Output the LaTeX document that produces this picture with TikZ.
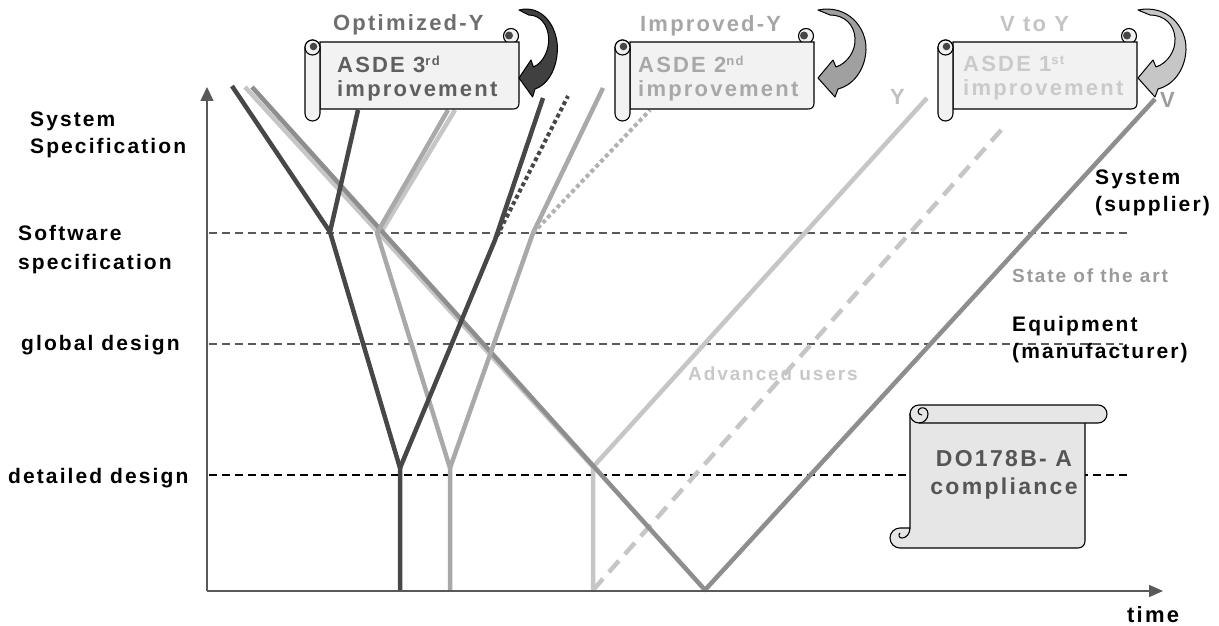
\documentclass[tikz,border=0pt]{standalone}
\usepackage{fontspec}
\setmainfont{Liberation Sans}[LetterSpace=10]
\usetikzlibrary{arrows.meta}
\definecolor{cdark}{HTML}{474747}
\definecolor{cmed}{HTML}{A9A9A9}
\definecolor{cmeddot}{HTML}{B2B2B2}
\definecolor{clight}{HTML}{C6C6C6}
\definecolor{cv}{HTML}{8E8E8E}
\definecolor{caxis}{HTML}{595959}
\definecolor{cscroll}{HTML}{F2F2F2}
\definecolor{cdo}{HTML}{E6E6E6}
\definecolor{tOpt}{HTML}{6E6E6E}
\definecolor{tImp}{HTML}{A6A6A6}
\definecolor{tVY}{HTML}{C4C4C4}
\definecolor{tS3}{HTML}{5F5F5F}
\definecolor{tS2}{HTML}{A8A8A8}
\definecolor{tS1}{HTML}{CACACA}
\definecolor{tState}{HTML}{9A9A9A}
\definecolor{tAdv}{HTML}{C8C8C8}
\definecolor{tY}{HTML}{C0C0C0}
\definecolor{tV}{HTML}{9C9C9C}
\definecolor{tDO}{HTML}{555555}
\definecolor{aOne}{HTML}{404040}
\definecolor{aTwo}{HTML}{A0A0A0}
\definecolor{aThree}{HTML}{C6C6C6}

\newcommand\hscroll[2]{%
 \begin{scope}[shift={(#1,0)}]
  \draw[scr] (#2-8,36) circle[radius=7.5];
  \draw[scr] (15,42) -- (#2,42) -- (#2,103) .. controls (#2,107) and (#2-2,109) .. (#2-6,109) -- (15,109) -- cycle;
  \fill[cdark] (#2-10,35.5) circle[radius=4];
  \draw[scr,rounded corners=7.5pt] (0,40) rectangle (15,121);
  \draw[scr] (7.5,47.5) circle[radius=7.5];
  \fill[cdark] (8.5,46.5) circle[radius=3.8];
 \end{scope}}

\newcommand\curlarrow[3]{%
 \begin{scope}[shift={(#1,0)},xscale=#2]
  \filldraw[draw=black,line width=1pt,fill=#3,line join=round] (0,10) .. controls (30,4) and (49,28) .. (48,50) .. controls (47,72) and (33,86) .. (20,89) -- (17,97) -- (0,78) -- (15,60) -- (18,67) .. controls (30,63) and (38,50) .. (37,38) .. controls (36,24) and (26,15) .. (12,15) -- cycle;
 \end{scope}}

\newcommand\supx[1]{\raisebox{7pt}{\fontsize{13}{13}\selectfont #1}}

\begin{document}
\begin{tikzpicture}[x=1pt,y=-1pt,
  gline/.style={line width=4.5pt,line join=round},
  hdash/.style={line width=1.1pt,dash pattern=on 8pt off 5pt},
  scr/.style={draw=black,line width=1.1pt,fill=cscroll},
  vscr/.style={draw=black,line width=1.1pt,fill=cdo},
  lbl/.style={inner sep=0pt,font=\bfseries\fontsize{21}{27}\selectfont,align=left},
  sml/.style={inner sep=0pt,font=\bfseries\fontsize{19}{22}\selectfont},
  top/.style={inner sep=0pt,font=\bfseries\fontsize{22}{24}\selectfont,anchor=base west},
  stxt/.style={inner sep=0pt,font=\bfseries\fontsize{22}{24}\selectfont,align=left,anchor=north west}
]
\useasboundingbox (0,0) rectangle (1219,626);

% dashed levels
\coordinate (h1s) at (209,233); \coordinate (h1e) at (1127,233);
\coordinate (h2s) at (209,344); \coordinate (h2e) at (1123,344);
\coordinate (h3s) at (209,475); \coordinate (h3e) at (1128,475);
\draw[hdash,draw=caxis] (h1s) -- (h1e);
\draw[hdash,draw=caxis] (h2s) -- (h2e);
\draw[hdash,draw=black] (h3s) -- (h3e);

% light lines
\coordinate (lT) at (245,87);
\coordinate (lB) at (593,467);
\coordinate (lBot) at (593,590);
\coordinate (lY) at (927,98);
\coordinate (lDe) at (1003,128);
\coordinate (lU0) at (380,234);
\coordinate (lU) at (455,110);
\draw[gline,clight] (lT) -- (lB) -- (lBot);
\draw[gline,clight] (lB) -- (lY);
\draw[gline,clight] (lU0) -- (lU);
\draw[line width=4.5pt,clight,dash pattern=on 15pt off 9pt] (lBot) -- (lDe);

% V line
\coordinate (vT) at (252,87);
\coordinate (vB) at (705,590);
\coordinate (vE) at (1155,99);
\draw[gline,cv] (vT) -- (vB) -- (vE);

% medium lines
\coordinate (mU) at (448,110);
\coordinate (mB1) at (377,233);
\coordinate (mB2) at (450,468);
\coordinate (mBot) at (450,590);
\coordinate (mK) at (533,233);
\coordinate (mTop) at (603,88);
\coordinate (mDe) at (650,110);
\draw[gline,cmed] (mU) -- (mB1) -- (mB2) -- (mBot);
\draw[gline,cmed] (mB2) -- (mK) -- (mTop);
\draw[line width=4pt,cmeddot,dash pattern=on 4pt off 3pt] (mK) -- (mDe);

% dark lines
\coordinate (dT) at (232,86);
\coordinate (dB1) at (330,232);
\coordinate (dU) at (358,110);
\coordinate (dB2) at (400,468);
\coordinate (dBot) at (400,590);
\coordinate (dK) at (495,240);
\coordinate (dTop) at (543,98);
\coordinate (dDs) at (497,236);
\coordinate (dDe) at (568,96);
\draw[gline,cdark] (dT) -- (dB1) -- (dB2) -- (dBot);
\draw[gline,cdark] (dB1) -- (dU);
\draw[gline,cdark] (dB2) -- (dK) -- (dTop);
\draw[line width=4pt,cdark,dash pattern=on 4pt off 3pt] (dDs) -- (dDe);

% axes
\coordinate (O) at (207,591);
\coordinate (ya) at (207,87);
\coordinate (xa) at (1163,591);
\draw[line width=1.5pt,caxis,-{Triangle[length=14pt,width=13pt]}] (O) -- (ya);
\draw[line width=1.5pt,caxis,-{Triangle[length=14pt,width=12pt]}] (O) -- (xa);

% horizontal scrolls and curved arrows
\hscroll{305}{214}
\hscroll{615}{199}
\hscroll{938}{199}
\curlarrow{519}{0.8}{aOne}
\curlarrow{818}{1}{aTwo}
\curlarrow{1138}{1}{aThree}

% DO178B vertical scroll
\draw[vscr] (910,414) -- (1085,414) -- (1085,541) .. controls (1085,545) and (1082,548) .. (1078,548) -- (900,548) .. controls (894.5,548) and (890,543.5) .. (890,538) .. controls (890,532.5) and (894.5,528) .. (900,528) -- (910,528) -- cycle;
\draw[line width=1.1pt] (910,528) .. controls (910,534) and (906,538) .. (902,538) .. controls (899,538) and (898,535) .. (900,533);
\draw[vscr,rounded corners=9pt] (910,405) rectangle (1107,423);
\draw[line width=1.1pt] (919,423) .. controls (924,423) and (928,419) .. (928,414) .. controls (928,409) and (924,407) .. (921,408) .. controls (917,409) and (917,415) .. (922,415);
\node[inner sep=0pt,font=\bfseries\fontsize{23}{28}\selectfont,align=center,text=tDO] (do) at (1004,475) {DO178B- A\\compliance};

% scroll texts
\node[stxt,text=tS3] (s3) at (337,56) {ASDE 3\supx{rd}\\improvement};
\node[stxt,text=tS2] (s2) at (638,56) {ASDE 2\supx{nd}\\improvement};
\node[stxt,text=tS1] (s1) at (963,56) {ASDE 1\supx{st}\\improvement};

% top labels
\node[top,text=tOpt] (opt) at (333,31) {Optimized-Y};
\node[top,text=tImp] (imp) at (640,32) {Improved-Y};
\node[top,text=tVY] (vty) at (1000,32) {V to Y};

% left labels
\node[lbl,anchor=north west] (sysspec) at (30,112) {System\\Specification};
\node[lbl,anchor=north west] (swspec) at (18,225) {Software\\[2pt]specification};
\node[lbl,anchor=base west] (globd) at (21,350) {global design};
\node[lbl,anchor=base west] (detd) at (8,483) {detailed design};

% right labels
\node[lbl,anchor=north west] (syssup) at (1095,170) {System\\(supplier)};
\node[sml,anchor=base west,text=tState] (state) at (1012,282) {State of the art};
\node[lbl,anchor=north west] (equip) at (1012,316) {Equipment\\(manufacturer)};

% other labels
\node[sml,anchor=base west,text=tAdv] (adv) at (688,380) {Advanced users};
\node[top,text=tY] (ylab) at (890,105) {Y};
\node[top,text=tV] (vlab) at (1160,107) {V};
\node[top,text=black] (time) at (1127,622) {time};
\end{tikzpicture}
\end{document}
